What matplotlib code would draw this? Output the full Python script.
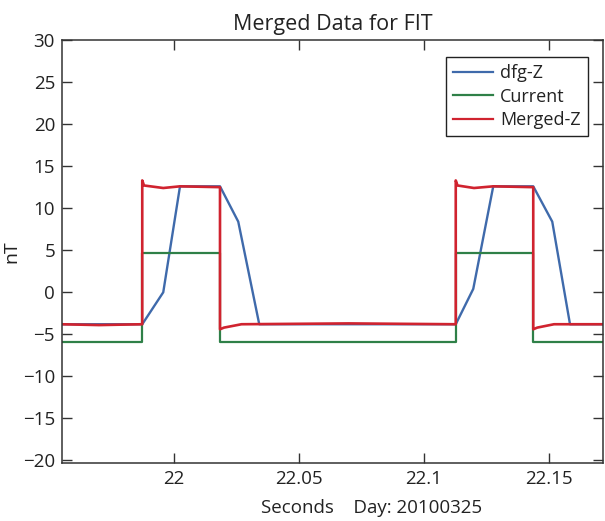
import matplotlib
matplotlib.use("Agg")
import matplotlib.pyplot as plt

plt.rcParams["font.family"] = ["Open Sans", "DejaVu Sans"]

# Magnetometer Z component (nT) versus seconds of day 20100325
dfg_t = [21.955, 21.9873, 21.9957, 22.0024, 22.0184, 22.0257, 22.0341,
         22.1127, 22.1197, 22.1277, 22.1437, 22.1513, 22.1584, 22.1716]
dfg_z = [-3.8, -3.8, 0.0, 12.6, 12.6, 8.4, -3.8,
         -3.8, 0.4, 12.6, 12.6, 8.4, -3.8, -3.8]

cur_t = [21.955, 21.9873, 21.9873, 22.0184, 22.0184,
         22.1127, 22.1127, 22.1437, 22.1437, 22.1716]
cur_z = [-5.9, -5.9, 4.7, 4.7, -5.9,
         -5.9, 4.7, 4.7, -5.9, -5.9]

mrg_t = [21.955, 21.970, 21.9873, 21.9873, 21.9880, 21.9957, 22.0024, 22.0184,
         22.0184, 22.0200, 22.0270, 22.0700, 22.1127, 22.1127, 22.1134, 22.1200,
         22.1277, 22.1437, 22.1437, 22.1453, 22.1520, 22.1716]
mrg_z = [-3.8, -3.9, -3.8, 13.3, 12.7, 12.4, 12.6, 12.5,
         -4.4, -4.2, -3.8, -3.7, -3.8, 13.3, 12.7, 12.4,
         12.6, 12.5, -4.4, -4.2, -3.8, -3.8]

x_ticks = [22.0, 22.05, 22.1, 22.15]
x_tick_labels = ["22", "22.05", "22.1", "22.15"]
y_ticks = list(range(-20, 31, 5))

text_col = "#222222"

fig = plt.figure(figsize=(6.05, 5.21), dpi=100)
ax = fig.add_axes([62 / 605, 1 - 463 / 521, (603 - 62) / 605, (463 - 40) / 521])

ax.plot(dfg_t, dfg_z, color="#3f6aab", lw=1.7, label="dfg-Z")
ax.plot(cur_t, cur_z, color="#2f8048", lw=1.6, label="Current")
ax.plot(mrg_t, mrg_z, color="#d0232f", lw=1.9, label="Merged-Z")

ax.set_xlim(21.9552, 22.1716)
ax.set_ylim(-20.3, 30)
ax.set_xticks(x_ticks)
ax.set_xticklabels(x_tick_labels)
ax.set_yticks(y_ticks)

ax.tick_params(direction="in", length=7, width=1, colors="#333333",
               labelcolor=text_col, labelsize=13.5, top=True, right=True, pad=5)
for s in ax.spines.values():
    s.set_color("#333333")
    s.set_linewidth(1.1)

ax.set_title("Merged Data for FIT", fontsize=15.5, color=text_col, pad=7)
ax.set_ylabel("nT", fontsize=14, color=text_col, labelpad=2)
fig.text(372 / 605, 1 - 508 / 521, "Seconds    Day: 20100325", fontsize=13.5,
         color=text_col, ha="center", va="center")

leg = ax.legend(loc="upper right", bbox_to_anchor=(588 / 605, 1 - 57 / 521),
                bbox_transform=fig.transFigure, fontsize=13, frameon=True,
                fancybox=False, framealpha=1, edgecolor="#222222",
                handlelength=2.2, handletextpad=0.4, labelspacing=0.3,
                borderpad=0.4, borderaxespad=0)
leg.get_frame().set_linewidth(1.0)
for line in leg.get_lines():
    line.set_linewidth(1.6)
for t in leg.get_texts():
    t.set_color(text_col)

fig.savefig("out.png", dpi=100)
